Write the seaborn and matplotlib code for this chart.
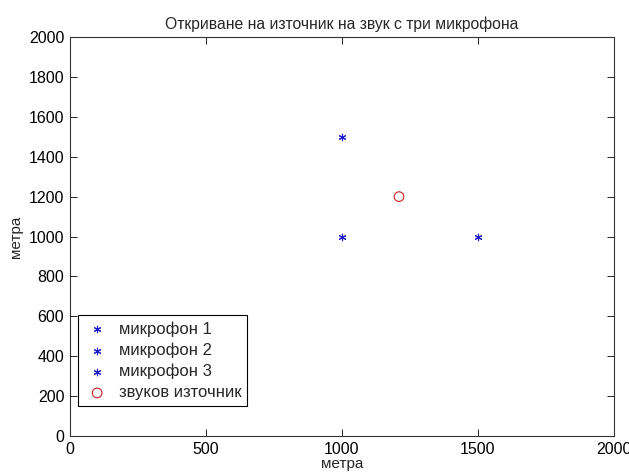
import matplotlib
matplotlib.use("Agg")
import matplotlib.pyplot as plt
import seaborn as sns

# ---- Data ----
mic_labels = ["микрофон 1", "микрофон 2", "микрофон 3"]
mic_x = [1000, 1000, 1500]
mic_y = [1500, 1000, 1000]
source_label = "звуков източник"
source_x = [1210]
source_y = [1200]

x_ticks = [0, 500, 1000, 1500, 2000]
y_ticks = [0, 200, 400, 600, 800, 1000, 1200, 1400, 1600, 1800, 2000]

# ---- Style ----
sns.set_style("ticks")
plt.rcParams["font.family"] = ["Liberation Sans", "DejaVu Sans"]
plt.rcParams["xtick.direction"] = "in"
plt.rcParams["ytick.direction"] = "in"

fig = plt.figure(figsize=(6.29, 4.74), dpi=100)
ax = fig.add_axes([0.111, 0.080, 0.865, 0.842])

# ---- Plot ----
for lbl, x, y in zip(mic_labels, mic_x, mic_y):
    sns.scatterplot(x=[x], y=[y], ax=ax, marker=(6, 2, 0), color="#1a1acc",
                    s=22, linewidth=0.8, label=lbl)

sns.scatterplot(x=source_x, y=source_y, ax=ax, marker="o", s=48,
                facecolor="none", edgecolor="#d02020", linewidth=0.8,
                label=source_label)

ax.set_xlim(0, 2000)
ax.set_ylim(0, 2000)
ax.set_xticks(x_ticks)
ax.set_yticks(y_ticks)
ax.tick_params(labelsize=11.5, length=5, width=0.6, colors="black", top=True, right=True,
               labeltop=False, labelright=False, pad=4)
for sp in ax.spines.values():
    sp.set_visible(True)
    sp.set_linewidth(0.8)
    sp.set_color("#333333")

ax.set_title("Откриване на източник на звук с три микрофона", fontsize=11.3, pad=6)
ax.set_xlabel("метра", fontsize=11, labelpad=0)
ax.set_ylabel("метра", fontsize=11, labelpad=4)

leg = ax.legend(loc="lower left", bbox_to_anchor=(0.015, 0.075), borderaxespad=0,
                fontsize=12, frameon=True, fancybox=False, framealpha=1,
                edgecolor="black", handletextpad=0.5, labelspacing=0.35,
                borderpad=0.35, handlelength=1.6)
leg.get_frame().set_linewidth(0.8)

fig.savefig("out.png", dpi=100)
